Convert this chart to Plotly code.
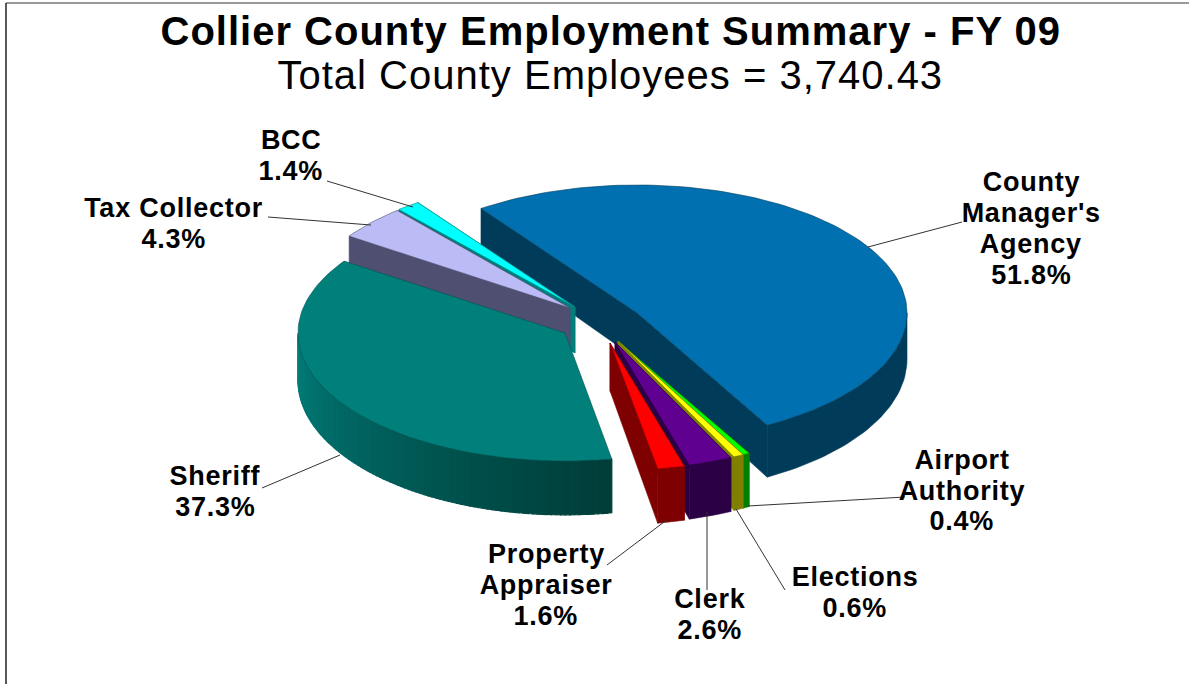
import math
import plotly.graph_objects as go

# ---------- data ----------
categories = ["County Manager's Agency", "Airport Authority", "Elections", "Clerk",
              "Property Appraiser", "Sheriff", "Tax Collector", "BCC"]
shares = [51.8, 0.4, 0.6, 2.6, 1.6, 37.3, 4.3, 1.4]
title_main = "Collier County Employment Summary - FY 09"
title_sub = "Total County Employees = 3,740.43"

# ---------- styling / layout ----------
W, H = 1189, 684
START = -35.3
RY = 128
style = {
    "County Manager's Agency": dict(c=(637, 313), rx=270, top="#0070B0", side="#003C5A"),
    "Airport Authority": dict(c=(618, 341), rx=272, top="#00FF00", side="#008000"),
    "Elections": dict(c=(618, 341), rx=272, top="#FFFF00", side="#7F7F00"),
    "Clerk": dict(c=(615, 342), rx=272, top="#5F0090", side="#2B0044"),
    "Property Appraiser": dict(c=(610, 343), rx=272, top="#FF0000", side="#7F0000"),
    "Sheriff": dict(c=(565, 333), rx=267, top="#007F7B", side=None),
    "Tax Collector": dict(c=(570, 308), rx=267, top="#BBBBF5", side="#4F4F72"),
    "BCC": dict(c=(575, 307), rx=272, top="#00FFFF", side="#007F7B"),
}
draw_order = ["County Manager's Agency", "BCC", "Tax Collector", "Sheriff",
              "Airport Authority", "Elections", "Clerk", "Property Appraiser"]
labels = [
    (["BCC", "1.4%"], 291, [140, 171]),
    (["Tax Collector", "4.3%"], 174, [208, 239]),
    (["County", "Manager's", "Agency", "51.8%"], 1031, [182, 213, 244, 275]),
    (["Airport", "Authority", "0.4%"], 962, [460, 491, 521]),
    (["Elections", "0.6%"], 855, [577, 608]),
    (["Clerk", "2.6%"], 710, [599, 630]),
    (["Property", "Appraiser", "1.6%"], 546, [554, 585, 616]),
    (["Sheriff", "37.3%"], 215, [476, 507]),
]
leaders = [
    ((327, 181), (413, 207)), ((268, 217), (371, 225)), ((868, 247), (962, 222)),
    ((262, 488), (340, 455)), ((607, 565), (668, 519)), ((707, 512), (707, 590)),
    ((736, 509), (785, 590)), ((748, 506), (905, 497)),
]


def depth(y):
    return 41 + (y - 209) / 216 * 11


def pt(s, t):
    a = math.radians(t)
    return s["c"][0] + s["rx"] * math.sin(a), s["c"][1] - RY * math.cos(a)


def arc(s, t0, t1, n=None):
    n = n or max(2, int(abs(t1 - t0) / 1.5) + 1)
    return [pt(s, t0 + (t1 - t0) * i / n) for i in range(n + 1)]


def poly(fig, pts, fill, line=None, name="", width=0.6):
    xs = [p[0] for p in pts] + [pts[0][0]]
    ys = [p[1] for p in pts] + [pts[0][1]]
    fig.add_trace(go.Scatter(x=xs, y=ys, mode="lines", fill="toself", fillcolor=fill,
                             line=dict(color=line or fill, width=width),
                             name=name, hoverinfo="name", showlegend=False))


def down(p):
    return p[0], p[1] + depth(p[1])


spans = {}
t = START
for cat, v in zip(categories, shares):
    spans[cat] = (t, t + v * 3.6)
    t += v * 3.6

fig = go.Figure()
for cat in draw_order:
    s = style[cat]
    t0, t1 = spans[cat]
    apex = s["c"]
    side = s["side"]
    if side:
        for edge in (t0, t1):
            p = pt(s, edge)
            poly(fig, [apex, p, down(p), down(apex)], side, name=cat)
    # front rim, only the part of the slice that faces the viewer
    a, b = max(t0, 90), min(t1, 270)
    if a < b:
        if side:
            top = arc(s, a, b)
            poly(fig, top + [down(p) for p in reversed(top)], side, name=cat)
        else:
            n = int(b - a)
            for i in range(n):
                ta = a + (b - a) * i / n
                tb = a + (b - a) * (i + 1) / n
                f = i / (n - 1)          # 0 at the right end, 1 at the left end
                col = "rgb(0,%d,%d)" % (62 + 65 * f ** 1.1, 58 + 65 * f ** 1.1)
                top = arc(s, ta, tb, 2)
                poly(fig, top + [down(p) for p in reversed(top)], col, name=cat, width=1.2)
    edge_col = side or "#00554F"
    poly(fig, [apex] + arc(s, t0, t1), s["top"], line=edge_col, name=cat)

for (x0, y0), (x1, y1) in leaders:
    fig.add_trace(go.Scatter(x=[x0, x1], y=[y0, y1], mode="lines", hoverinfo="skip",
                             line=dict(color="#333333", width=1), showlegend=False))

ann = []
for lines, x, ys in labels:
    for text, y in zip(lines, ys):
        ann.append(dict(x=x, y=y, text="<b>%s</b>" % text, showarrow=False, xanchor="center",
                        yanchor="middle", font=dict(family="Liberation Sans", size=27, color="#000000")))
ann.append(dict(x=610, y=31, text="<b>%s</b>" % title_main, showarrow=False, xanchor="center", yanchor="middle",
                font=dict(family="Liberation Sans", size=40, color="#000000")))
ann.append(dict(x=610, y=75, text=title_sub, showarrow=False, xanchor="center", yanchor="middle",
                font=dict(family="Liberation Sans", size=40, color="#000000")))

frame = [
    dict(type="line", x0=6, x1=W, y0=3, y1=3, line=dict(color="#777777", width=1.5)),
    dict(type="line", x0=6, x1=6, y0=3, y1=H, line=dict(color="#222222", width=1.5)),
]
fig.update_layout(
    width=W, height=H, margin=dict(l=0, r=0, t=0, b=0), showlegend=False,
    paper_bgcolor="white", plot_bgcolor="white", annotations=ann, shapes=frame,
    xaxis=dict(range=[0, W], visible=False, fixedrange=True),
    yaxis=dict(range=[H, 0], visible=False, fixedrange=True),
)
spacing = """
document.body.style.margin = '0';
document.querySelectorAll('.annotation-text').forEach(function (el) {
  el.style.letterSpacing = parseFloat(el.style.fontSize) >= 30 ? '1px' : '0.75px';
});
"""
fig.write_html("out.html", post_script=spacing, config={"displayModeBar": False})
